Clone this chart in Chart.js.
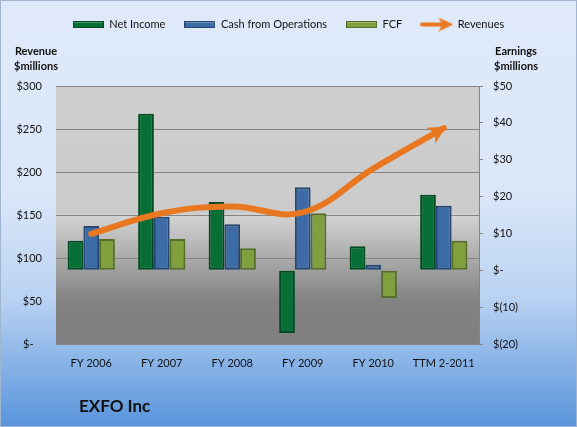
<!DOCTYPE html>
<html><head><meta charset="utf-8">
<script src="https://cdn.jsdelivr.net/npm/chart.js@4.4.1/dist/chart.umd.min.js"></script>
<style>html,body{margin:0;padding:0;background:#fff}#wrap{width:577px;height:427px;position:relative}</style>
</head><body><div id="wrap"><canvas id="c" width="577" height="427"></canvas></div>
<script>
// ---- data ----
const categories = ['FY 2006', 'FY 2007', 'FY 2008', 'FY 2009', 'FY 2010', 'TTM 2-2011'];
const netIncome = [8, 42.5, 18.5, -17, 6.5, 20.5];        // $ millions, right axis
const cashFromOps = [12, 14.5, 12.5, 22.5, 1.5, 17.5];    // $ millions, right axis
const fcf = [8.5, 8.5, 6, 15.5, -7.5, 8];                  // $ millions, right axis
const revenues = [128, 152, 160, 153, 204, 251];           // $ millions, left axis
const seriesNames = ['Net Income', 'Cash from Operations', 'FCF', 'Revenues'];
const leftAxisTitle = ['Revenue', '$millions'];
const rightAxisTitle = ['Earnings', '$millions'];
const chartTitle = 'EXFO Inc';
const leftTicks = { min: 0, max: 300, step: 50 };
const rightTicks = { min: -20, max: 50, step: 10 };

const FONT = 'Lato, "Open Sans", sans-serif';
const COL = {
  ni: '#076f35', niB: '#034a22',
  cfo: '#3d6ba5', cfoB: '#26476f',
  fcf: '#80a040', fcfB: '#556d27',
  rev: '#e8771f'
};

function leftFmt(v) { return v === 0 ? '$-   ' : '$' + v; }
function rightFmt(v) { return v === 0 ? '$-' : (v < 0 ? '$(' + (-v) + ')' : '$' + v); }

function boxIcon(fill, border) {
  const c = document.createElement('canvas'); c.width = 31; c.height = 7;
  const x = c.getContext('2d');
  x.fillStyle = border; x.fillRect(0, 0, 31, 7);
  x.fillStyle = fill; x.fillRect(1, 1, 29, 5);
  x.fillStyle = 'rgba(255,255,255,0.25)'; x.fillRect(1, 1, 29, 1);
  return c;
}
function arrowIcon(color) {
  const c = document.createElement('canvas'); c.width = 33; c.height = 14;
  const x = c.getContext('2d');
  x.fillStyle = color; x.strokeStyle = color;
  x.lineWidth = 4; x.lineCap = 'round';
  x.beginPath(); x.moveTo(2, 7); x.lineTo(22, 7); x.stroke();
  x.beginPath(); x.moveTo(33, 7); x.lineTo(18, 0); x.lineTo(22, 7); x.lineTo(18, 14); x.closePath(); x.fill();
  return c;
}
const icons = [boxIcon(COL.ni, COL.niB), boxIcon(COL.cfo, COL.cfoB), boxIcon(COL.fcf, COL.fcfB), arrowIcon(COL.rev)];

const decor = {
  id: 'decor',
  beforeInit(chart) {
    const lg = chart.legend;
    if (lg) { const f = lg.fit.bind(lg); lg.fit = function () { f(); this.height = 86; }; }
  },
  beforeDraw(chart) {
    const ctx = chart.ctx, W = chart.width, H = chart.height, a = chart.chartArea;
    ctx.save();
    let g = ctx.createLinearGradient(0, 0, 0, H);
    g.addColorStop(0, '#dfe9f9');
    g.addColorStop(0.45, '#dbe7f9');
    g.addColorStop(0.7, '#b9d2f2');
    g.addColorStop(1, '#5894dc');
    ctx.fillStyle = g; ctx.fillRect(0, 0, W, H);
    ctx.strokeStyle = '#9fb5d0'; ctx.lineWidth = 1; ctx.strokeRect(0.5, 0.5, W - 1, H - 1);
    g = ctx.createLinearGradient(0, a.top, 0, a.bottom);
    g.addColorStop(0, '#cfcfcf');
    g.addColorStop(0.49, '#cbcbcb');
    g.addColorStop(0.5, '#d3d3d3');
    g.addColorStop(0.83, '#838383');
    g.addColorStop(1, '#7f7f7f');
    ctx.fillStyle = g; ctx.fillRect(a.left, a.top, a.right - a.left, a.bottom - a.top);
    ctx.restore();
  },
  afterDatasetsDraw(chart) {
    const meta = chart.getDatasetMeta(3);
    const pts = meta.data; if (!pts.length) return;
    const p = pts[pts.length - 1], q = pts[pts.length - 2];
    let cx = p.cp1x, cy = p.cp1y;
    if (cx === undefined || (Math.abs(cx - p.x) < 0.5 && Math.abs(cy - p.y) < 0.5)) { cx = q.x; cy = q.y; }
    const ang = Math.atan2(p.y - cy, p.x - cx);
    const ctx = chart.ctx; ctx.save();
    ctx.translate(p.x, p.y); ctx.rotate(ang);
    ctx.fillStyle = COL.rev;
    ctx.beginPath(); ctx.moveTo(3, 0); ctx.lineTo(-15, -9); ctx.lineTo(-10, 0); ctx.lineTo(-15, 9); ctx.closePath(); ctx.fill();
    ctx.restore();
  },
  afterDraw(chart) {
    const ctx = chart.ctx; ctx.save();
    ctx.fillStyle = '#111'; ctx.textAlign = 'center'; ctx.textBaseline = 'middle';
    ctx.font = 'bold 11px ' + FONT;
    ctx.fillText(leftAxisTitle[0], 36, 51); ctx.fillText(leftAxisTitle[1], 36, 66);
    ctx.fillText(rightAxisTitle[0], 516, 51); ctx.fillText(rightAxisTitle[1], 516, 66);
    ctx.textAlign = 'left'; ctx.font = 'bold 17px ' + FONT;
    ctx.fillText(chartTitle, 79, 407);
    ctx.restore();
  }
};

const barCommon = { type: 'bar', yAxisID: 'y1', borderWidth: 2, borderSkipped: false, categoryPercentage: 0.67, barPercentage: 1.0, order: 2 };

new Chart(document.getElementById('c'), {
  data: {
    labels: categories,
    datasets: [
      Object.assign({ label: seriesNames[0], data: netIncome, backgroundColor: COL.ni, borderColor: COL.niB }, barCommon),
      Object.assign({ label: seriesNames[1], data: cashFromOps, backgroundColor: COL.cfo, borderColor: COL.cfoB }, barCommon),
      Object.assign({ label: seriesNames[2], data: fcf, backgroundColor: COL.fcf, borderColor: COL.fcfB }, barCommon),
      { type: 'line', label: seriesNames[3], data: revenues, yAxisID: 'y', borderColor: COL.rev, backgroundColor: COL.rev,
        borderWidth: 6, tension: 0.4, pointRadius: 0, borderCapStyle: 'round', fill: false, order: 1 }
    ]
  },
  options: {
    responsive: false, animation: false, devicePixelRatio: 1,
    layout: { padding: 0 },
    plugins: {
      tooltip: { enabled: false },
      legend: {
        position: 'top',
        labels: {
          usePointStyle: true, pointStyleWidth: 31, padding: 19,
          color: '#111', font: { family: FONT, size: 11 },
          generateLabels() {
            return seriesNames.map((n, i) => ({ text: n, pointStyle: icons[i], datasetIndex: i, hidden: false, fontColor: '#111', lineWidth: 0 }));
          }
        }
      }
    },
    scales: {
      x: {
        type: 'category', offset: true,
        grid: { display: false, drawTicks: false },
        border: { display: false },
        ticks: { color: '#111', font: { family: FONT, size: 11 }, padding: 13, maxRotation: 0, autoSkip: false },
        afterFit(s) { s.height = 83; }
      },
      y: {
        position: 'left', min: leftTicks.min, max: leftTicks.max,
        ticks: { stepSize: leftTicks.step, callback: leftFmt, color: '#111', font: { family: FONT, size: 11 }, padding: 14 },
        grid: { color: '#858585', lineWidth: 1, drawTicks: false },
        border: { display: false },
        afterFit(s) { s.width = 56; }
      },
      y1: {
        position: 'right', min: rightTicks.min, max: rightTicks.max,
        ticks: { stepSize: rightTicks.step, callback: rightFmt, color: '#111', font: { family: FONT, size: 11 }, padding: 10 },
        grid: { drawOnChartArea: false, drawTicks: true, tickLength: 4, color: '#858585' },
        border: { display: true, color: '#858585' },
        afterFit(s) { s.width = 98; }
      }
    }
  },
  plugins: [decor]
});
</script></body></html>
